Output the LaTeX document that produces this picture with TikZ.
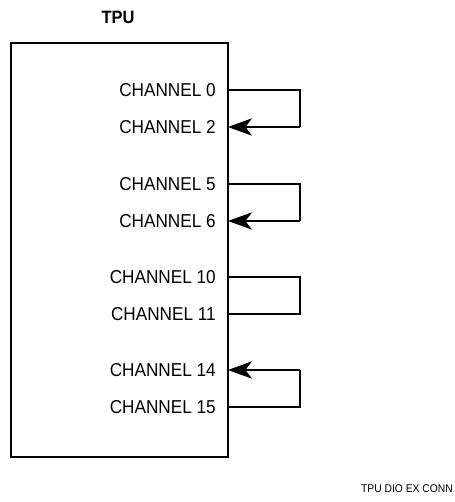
\documentclass[tikz,border=0pt]{standalone}
\usepackage{fontspec}
\setmainfont{Liberation Sans}
\newfontfamily\narrowsans[FakeStretch=0.92]{Liberation Sans}
\usetikzlibrary{arrows.meta}
\begin{document}
\begin{tikzpicture}[x=0.75pt,y=-0.75pt,
  chlabel/.style={anchor=east,inner sep=0pt,font=\narrowsans\fontsize{14}{16}\selectfont},
  loopline/.style={line width=0.8pt},
  loopar/.style={line width=0.8pt,-{Stealth[length=18pt,width=13pt,inset=5pt]}}]
\useasboundingbox (0,0) rectangle (454,502);
\node[font=\narrowsans\bfseries\fontsize{13.4}{15}\selectfont] (tpu) at (118,17) {TPU};
\draw[line width=1.3pt] (11,43) rectangle (228,457);
% labels
\node[chlabel] (c0) at (216,90) {CHANNEL 0};
\node[chlabel] (c2) at (216,127) {CHANNEL 2};
\node[chlabel] (c5) at (216,184) {CHANNEL 5};
\node[chlabel] (c6) at (216,221) {CHANNEL 6};
\node[chlabel] (c10) at (216,277) {CHANNEL 10};
\node[chlabel] (c11) at (216,314) {CHANNEL 11};
\node[chlabel] (c14) at (216,370) {CHANNEL 14};
\node[chlabel] (c15) at (216,407) {CHANNEL 15};
% pin coordinates
\foreach \n/\y in {0/90,2/127,5/184,6/221,10/277,11/314,14/370,15/407}{
  \coordinate (p\n) at (228,\y);
  \coordinate (q\n) at (300,\y);
}
\draw[loopline] (p0) -- (q0) -- (q2);
\draw[loopar] (q2) -- (p2);
\draw[loopline] (p5) -- (q5) -- (q6);
\draw[loopar] (q6) -- (p6);
\draw[loopline] (p10) -- (q10) -- (q11) -- (p11);
\draw[loopline] (p15) -- (q15) -- (q14);
\draw[loopar] (q14) -- (p14);
\node[anchor=east,inner sep=0pt,font=\narrowsans\fontsize{8.4}{10}\selectfont] (cap) at (453,489) {TPU DIO EX CONN};
\end{tikzpicture}
\end{document}
